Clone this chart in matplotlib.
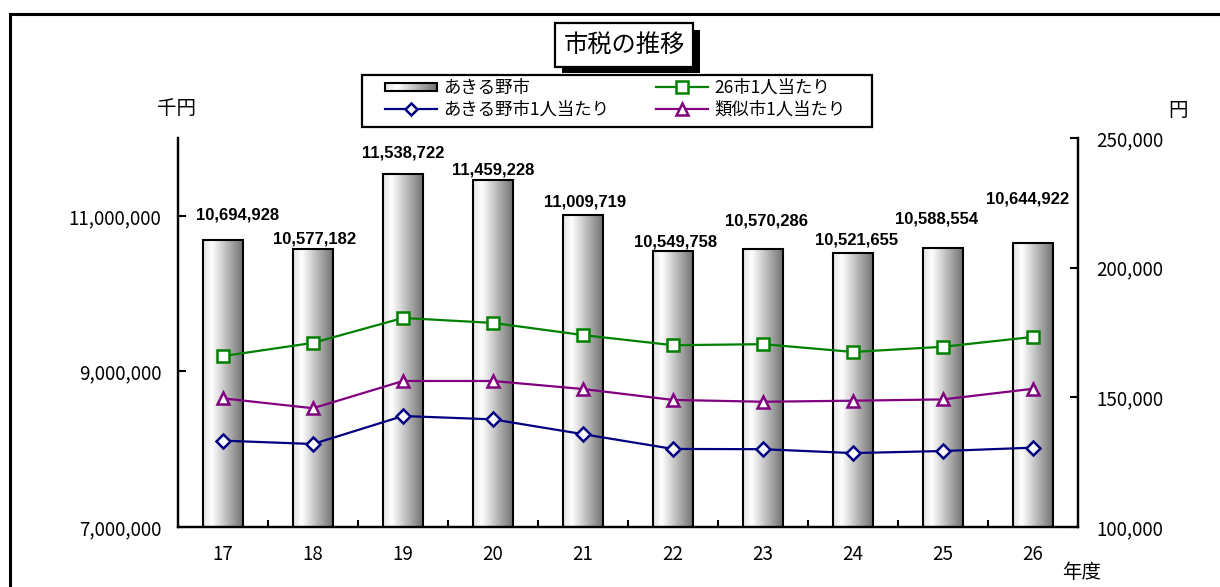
import matplotlib
matplotlib.use("Agg")
import matplotlib.pyplot as plt
import matplotlib.patheffects as pe
import numpy as np
from matplotlib.colors import LinearSegmentedColormap
from matplotlib.legend_handler import HandlerBase
from matplotlib.patches import Rectangle
from matplotlib.lines import Line2D

plt.rcParams['font.family'] = ['Noto Sans CJK JP', 'DejaVu Sans']

# data (千円 / 円)
years = ['17', '18', '19', '20', '21', '22', '23', '24', '25', '26']
city_tax = [10694928, 10577182, 11538722, 11459228, 11009719,
            10549758, 10570286, 10521655, 10588554, 10644922]
per_capita_26 = [165900, 171000, 180600, 178700, 174000,
                 170100, 170500, 167500, 169500, 173300]
per_capita_similar = [149600, 145800, 156300, 156300, 153200,
                      149000, 148300, 148700, 149200, 153300]
per_capita_akiruno = [133300, 132000, 142800, 141500, 135800,
                      130100, 130000, 128500, 129300, 130600]

# label nudges in pixels (the labels were moved by hand in the original)
label_nudge = [(15, 25), (2, 10), (0, 21), (0, 10), (2, 13),
               (3, 9), (4, 28), (4, 13), (-6, 29), (-5, 44)]

bar_cmap = LinearSegmentedColormap.from_list(
    'bar', [(0, '#e2e2e2'), (0.22, '#ffffff'), (1, '#727272')])


class GradientHandler(HandlerBase):
    def create_artists(self, legend, orig, xd, yd, width, height, fontsize, trans):
        arts = []
        n = 30
        h = height * 0.7
        y0 = yd + (height - h) / 2
        for i in range(n):
            arts.append(Rectangle((xd + width * i / n, y0), width / n + 0.3, h,
                                  facecolor=bar_cmap(i / (n - 1)), edgecolor='none',
                                  transform=trans))
        arts.append(Rectangle((xd, y0), width, h, facecolor='none',
                              edgecolor='black', linewidth=1.5, transform=trans))
        return arts


fig = plt.figure(figsize=(12.2, 5.87), dpi=100)
ax = fig.add_axes([178 / 1220, 1 - 527 / 587, 900 / 1220, 389 / 587])
ax2 = ax.twinx()

x = np.arange(len(years))
bars = ax.bar(x, city_tax, width=0.44, facecolor='none', edgecolor='black',
              linewidth=1.5, zorder=3)
grad = np.linspace(0, 1, 256).reshape(1, -1)
for b in bars:
    im = ax.imshow(grad, cmap=bar_cmap, aspect='auto', zorder=2,
                   extent=[b.get_x(), b.get_x() + b.get_width(), 7000000, b.get_height()])
    im.set_clip_path(b)

for i, v in enumerate(city_tax):
    dx, dy = label_nudge[i]
    ax.annotate(f'{v:,}', (x[i], v), xytext=(dx, dy), textcoords='offset pixels',
                ha='center', va='center', fontsize=12, fontweight='bold',
                family='Liberation Sans')

ax.set_xlim(-0.5, len(years) - 0.5)
ax.set_ylim(7000000, 12000000)
ax.set_yticks([7000000, 9000000, 11000000])
ax.yaxis.set_major_formatter(matplotlib.ticker.StrMethodFormatter('{x:,.0f}'))
ax.set_xticks(x)
ax.set_xticklabels(years)
ax.set_xticks(x[:-1] + 0.5, minor=True)
ax.tick_params(axis='x', which='major', length=0, pad=12, labelsize=13.5)
ax.tick_params(axis='x', which='minor', direction='in', length=5, width=1.5)
ax.tick_params(axis='y', direction='in', length=6, width=1.5, pad=12, labelsize=13.5)

ax2.plot(x, per_capita_26, color='#008000', lw=1.6, marker='s', ms=9,
         mfc='white', mec='#008000', mew=1.8)
ax2.plot(x, per_capita_similar, color='#800080', lw=1.6, marker='^', ms=9,
         mfc='white', mec='#800080', mew=1.8)
ax2.plot(x, per_capita_akiruno, color='#000080', lw=1.6, marker='D', ms=7,
         mfc='white', mec='#000080', mew=1.8)
ax2.set_ylim(100000, 250000)
ax2.set_yticks([100000, 150000, 200000, 250000])
ax2.yaxis.set_major_formatter(matplotlib.ticker.StrMethodFormatter('{x:,.0f}'))
ax2.tick_params(axis='y', direction='in', length=6, width=1.5, pad=13, labelsize=13.5)

for a in (ax, ax2):
    a.spines['top'].set_visible(False)
    for s in ('left', 'right', 'bottom'):
        a.spines[s].set_linewidth(1.6)

# legend (frame drawn separately so the padding matches)
h_bar = Rectangle((0, 0), 1, 1)
h26 = Line2D([], [], color='#008000', lw=1.6, marker='s', ms=8, mfc='white', mew=1.8)
hak = Line2D([], [], color='#000080', lw=1.6, marker='D', ms=6, mfc='white', mew=1.8)
hsim = Line2D([], [], color='#800080', lw=1.6, marker='^', ms=8, mfc='white', mew=1.8)
leg = fig.legend([h_bar, hak, h26, hsim],
                 ['あきる野市', 'あきる野市1人当たり', '26市1人当たり', '類似市1人当たり'],
                 handler_map={Rectangle: GradientHandler()},
                 ncol=2, loc='upper left', bbox_to_anchor=(385 / 1220, 1 - 79 / 587),
                 fontsize=12.5, frameon=False,
                 handlelength=3.0, handletextpad=0.35, columnspacing=2.7,
                 borderpad=0, labelspacing=0.22, borderaxespad=0)
fig.patches.append(Rectangle((362 / 1220, 1 - 127 / 587), 510 / 1220, 52 / 587,
                             transform=fig.transFigure, facecolor='none',
                             edgecolor='black', lw=1.6))

# title with shadow box
t = fig.text(624 / 1220, 1 - 45 / 587, '市税の推移', ha='center', va='center', fontsize=17.5,
             bbox=dict(boxstyle='square,pad=0.35', facecolor='white', edgecolor='black', lw=1.6))
t.get_bbox_patch().set_path_effects([
    pe.SimplePatchShadow(offset=(5, -5), shadow_rgbFace='black', alpha=1), pe.Normal()])

fig.text(177 / 1220, 1 - 108 / 587, '千円', ha='center', va='center', fontsize=14)
fig.text(1178 / 1220, 1 - 110 / 587, '円', ha='center', va='center', fontsize=14)
fig.text(1082 / 1220, 1 - 573 / 587, '年度', ha='center', va='center', fontsize=14)

# outer frame
fig.patches.append(Rectangle((10 / 1220, -0.1), 1.2, 1.1 - 14 / 587, transform=fig.transFigure,
                             facecolor='none', edgecolor='black', lw=2.2))

fig.savefig('out.png', dpi=100)
